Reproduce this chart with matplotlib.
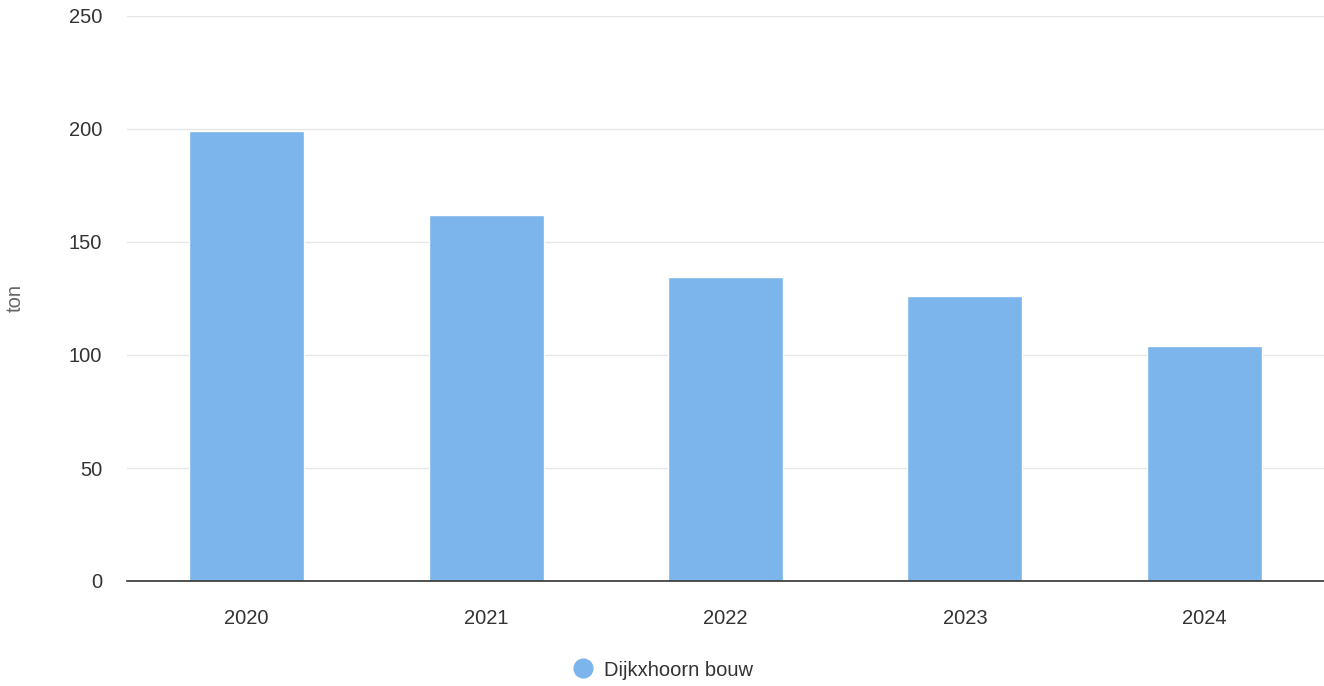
import matplotlib.pyplot as plt
from matplotlib.lines import Line2D

# data
years = ['2020', '2021', '2022', '2023', '2024']
values = [199, 162, 134.5, 126, 104]
series_name = 'Dijkxhoorn bouw'
yticks = [0, 50, 100, 150, 200, 250]

plt.rcParams['font.family'] = ['Liberation Sans', 'DejaVu Sans']

W, H = 1324, 686
fig = plt.figure(figsize=(W / 100, H / 100), dpi=100)
ax = fig.add_axes([127 / W, (H - 581) / H, (W - 127) / W, (581 - 16) / H])

x = range(len(years))
ax.bar(x, values, width=0.48, color='#7cb5ec', edgecolor='white', linewidth=1, zorder=3)

ax.set_xlim(-0.5, len(years) - 0.5)
ax.set_ylim(0, 250)
ax.set_yticks(yticks)
ax.set_xticks(list(x))
ax.set_xticklabels(years)

ax.grid(axis='y', color='#e6e6e6', linewidth=1, zorder=0)
for s in ['top', 'right', 'left']:
    ax.spines[s].set_visible(False)
ax.spines['bottom'].set_color('#333333')
ax.spines['bottom'].set_linewidth(1.2)
ax.spines['bottom'].set_zorder(4)

ax.tick_params(axis='both', length=0, labelsize=14.5, labelcolor='#333333')
ax.tick_params(axis='y', pad=18)
ax.tick_params(axis='x', pad=20)

ax.set_ylabel('ton', fontsize=14.5, color='#666666')
# label's right edge sits about 25 px from the left edge of the figure
ax.yaxis.set_label_coords((25 - 127) / (W - 127), 0.5)

handle = Line2D([], [], marker='o', linestyle='none', markersize=13.5,
                markerfacecolor='#7cb5ec', markeredgecolor='#7cb5ec')
fig.legend([handle], [series_name], loc='center', bbox_to_anchor=(0.5 - 4 / W, 1 - 670 / H),
           frameon=False, fontsize=14.5, handletextpad=0.05, labelcolor='#333333')

fig.savefig('out.png', dpi=100)
